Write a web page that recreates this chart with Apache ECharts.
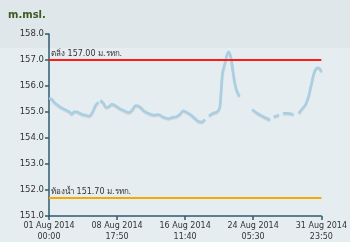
<!DOCTYPE html>
<html><head><meta charset="utf-8">
<script src="https://cdn.jsdelivr.net/npm/echarts@6/dist/echarts.min.js"></script>
<style>html,body{margin:0;padding:0;background:#e6edf0}#c{width:350px;height:242px}</style>
</head><body><div id="c"></div>
<script>
// hours since 01 Aug 2014 00:00
var hours = [0,5,16,30,43,57,62,70,78,89,100,110,119,127,135,137.5,140,148,156,164,172,181,191,205,218,226,237,248,259,272,286,299,313,326,337,348,358,367,377,388,399,407,418,426,431,437,447,458,466,470,474,480,485,490,496,501,507,512,520,537,555,569,582,596,604,609,614,628,633,639,652,668,675,682,693,701,709,717,725,733,739,744];
var levels = [155.5,155.52,155.35,155.2,155.1,155.0,154.92,155.02,155.0,154.92,154.88,154.85,155.0,155.25,155.38,null,155.45,155.35,155.18,155.22,155.3,155.25,155.15,155.05,154.98,155.05,155.25,155.2,155.05,154.95,154.88,154.9,154.8,154.75,154.8,154.82,154.92,155.05,154.98,154.88,154.75,154.65,154.62,154.72,null,154.85,154.95,155.0,155.15,155.8,156.5,156.85,157.15,157.32,157.15,156.7,156.15,155.85,155.6,null,155.1,154.95,154.85,154.75,154.7,null,154.82,154.88,null,154.95,154.95,154.9,null,154.95,155.15,155.3,155.6,156.1,156.55,156.7,156.68,156.55];
// x tick positions in minutes since 01 Aug 2014 00:00
var xTicks = [0,11150,22300,33450,44630];
var yTicks = [151,152,153,154,155,156,157,158];
var bankLevel = 157.00, bankLabel = 'ตลิ่ง 157.00 ม.รทก.';
var bedLevel = 151.70, bedLabel = 'ท้องน้ำ 151.70 ม.รทก.';
var unitLabel = 'm.msl.';

var data = hours.map(function(h,i){ return [h*60, levels[i]===null ? '-' : levels[i]]; });
var months = ['Jan','Feb','Mar','Apr','May','Jun','Jul','Aug','Sep','Oct','Nov','Dec'];
var start = Date.UTC(2014,7,1);
function pad(n){return (n<10?'0':'')+n;}
function fmt(m){
  var d = new Date(start + Math.round(m)*60000);
  return pad(d.getUTCDate())+' '+months[d.getUTCMonth()]+' '+d.getUTCFullYear()+'\n'+pad(d.getUTCHours())+':'+pad(d.getUTCMinutes());
}
var axisColor = '#2e5b6b';
var chart = echarts.init(document.getElementById('c'));
chart.setOption({
  backgroundColor: '#e6edf0',
  animation: false,
  graphic: [
    {type:'rect', shape:{x:0,y:0,width:350,height:48}, style:{fill:'#dfe7ea'}, z:-10},
    {type:'text', left:8, top:10, style:{text:unitLabel, fill:'#3d5a1e', font:'bold 10px "DejaVu Sans"'}}
  ],
  grid: {left:49, right:25, top:34, bottom:26},
  xAxis: {
    type:'value', min:xTicks[0], max:xTicks[xTicks.length-1],
    axisLine:{lineStyle:{color:axisColor, width:1.5}},
    axisTick:{length:4, customValues:xTicks, lineStyle:{color:axisColor, width:1.5}},
    splitLine:{show:false},
    axisLabel:{customValues:xTicks, formatter:fmt, color:'#333', fontSize:8, fontFamily:'DejaVu Sans', lineHeight:11, margin:4}
  },
  yAxis: {
    type:'value', min:yTicks[0], max:yTicks[yTicks.length-1], interval:1,
    axisLine:{show:true, lineStyle:{color:axisColor, width:1.5}},
    axisTick:{show:true, length:4, lineStyle:{color:axisColor, width:1.5}},
    splitLine:{show:false},
    axisLabel:{formatter:function(v){return v.toFixed(1);}, color:'#333', fontSize:8.5, fontFamily:'DejaVu Sans', margin:5}
  },
  series: [{
    type:'line', data:data, showSymbol:false, connectNulls:false, smooth:0.3,
    lineStyle:{color:'#a8cfe4', width:2.5, shadowColor:'rgba(0,0,0,0.12)', shadowBlur:1, shadowOffsetY:1},
    markLine:{
      silent:true, symbol:'none',
      label:{position:'insideStartTop', color:'#333', fontSize:8, fontFamily:'DejaVu Sans', distance:[2,2]},
      data:[
        {yAxis:bankLevel, lineStyle:{color:'#ff1a1a', width:2, type:'solid'}, label:{formatter:bankLabel}},
        {yAxis:bedLevel, lineStyle:{color:'#f5aa00', width:2, type:'solid'}, label:{formatter:bedLabel}}
      ]
    }
  }]
});
</script></body></html>
